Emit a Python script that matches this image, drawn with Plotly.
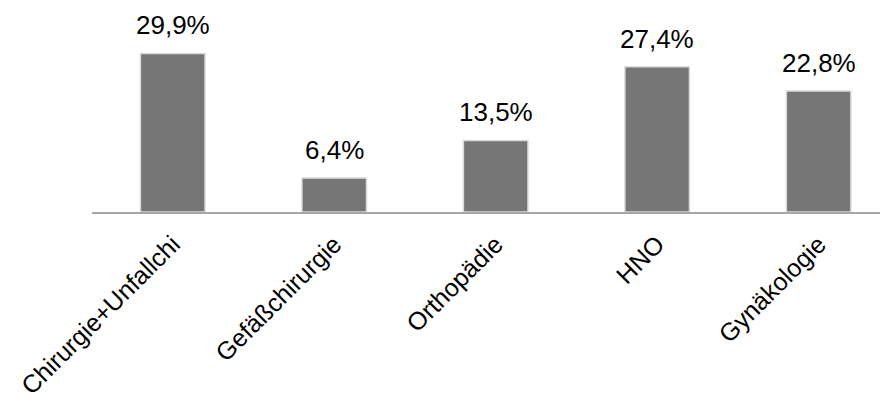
import plotly.graph_objects as go

categories = ["Chirurgie+Unfallchi", "Gefäßchirurgie", "Orthopädie", "HNO", "Gynäkologie"]
values = [29.9, 6.4, 13.5, 27.4, 22.8]
value_labels = ["29,9%", "6,4%", "13,5%", "27,4%", "22,8%"]

FONT = "Liberation Sans, Arial, sans-serif"
TEXT_COLOR = "#000000"

fig = go.Figure(
    go.Bar(
        x=categories,
        y=values,
        width=0.4,
        marker=dict(color="#767676", line=dict(color="#dcdcdc", width=1.5)),
        hoverinfo="skip",
    )
)

for cat, val, lab in zip(categories, values, value_labels):
    fig.add_annotation(
        x=cat, y=val, text=lab, showarrow=False,
        yanchor="bottom", yshift=11,
        font=dict(family=FONT, size=26, color=TEXT_COLOR),
    )

fig.update_layout(
    width=888, height=402,
    margin=dict(l=92, r=8, t=20, b=190, autoexpand=False),
    paper_bgcolor="white", plot_bgcolor="white",
    showlegend=False,
    font=dict(family=FONT, size=26, color=TEXT_COLOR),
)
fig.update_xaxes(
    range=[-0.5, 4.38], automargin=False,
    showline=True, linecolor="#a6a6a6", linewidth=1.5,
    showgrid=False, ticks="", tickangle=-45, ticklabelstandoff=6,
    tickfont=dict(family=FONT, size=25, color=TEXT_COLOR),
)
fig.update_yaxes(range=[0, 36.2], visible=False, showgrid=False, zeroline=False,
                 automargin=False)

fig.write_html("out.html")
